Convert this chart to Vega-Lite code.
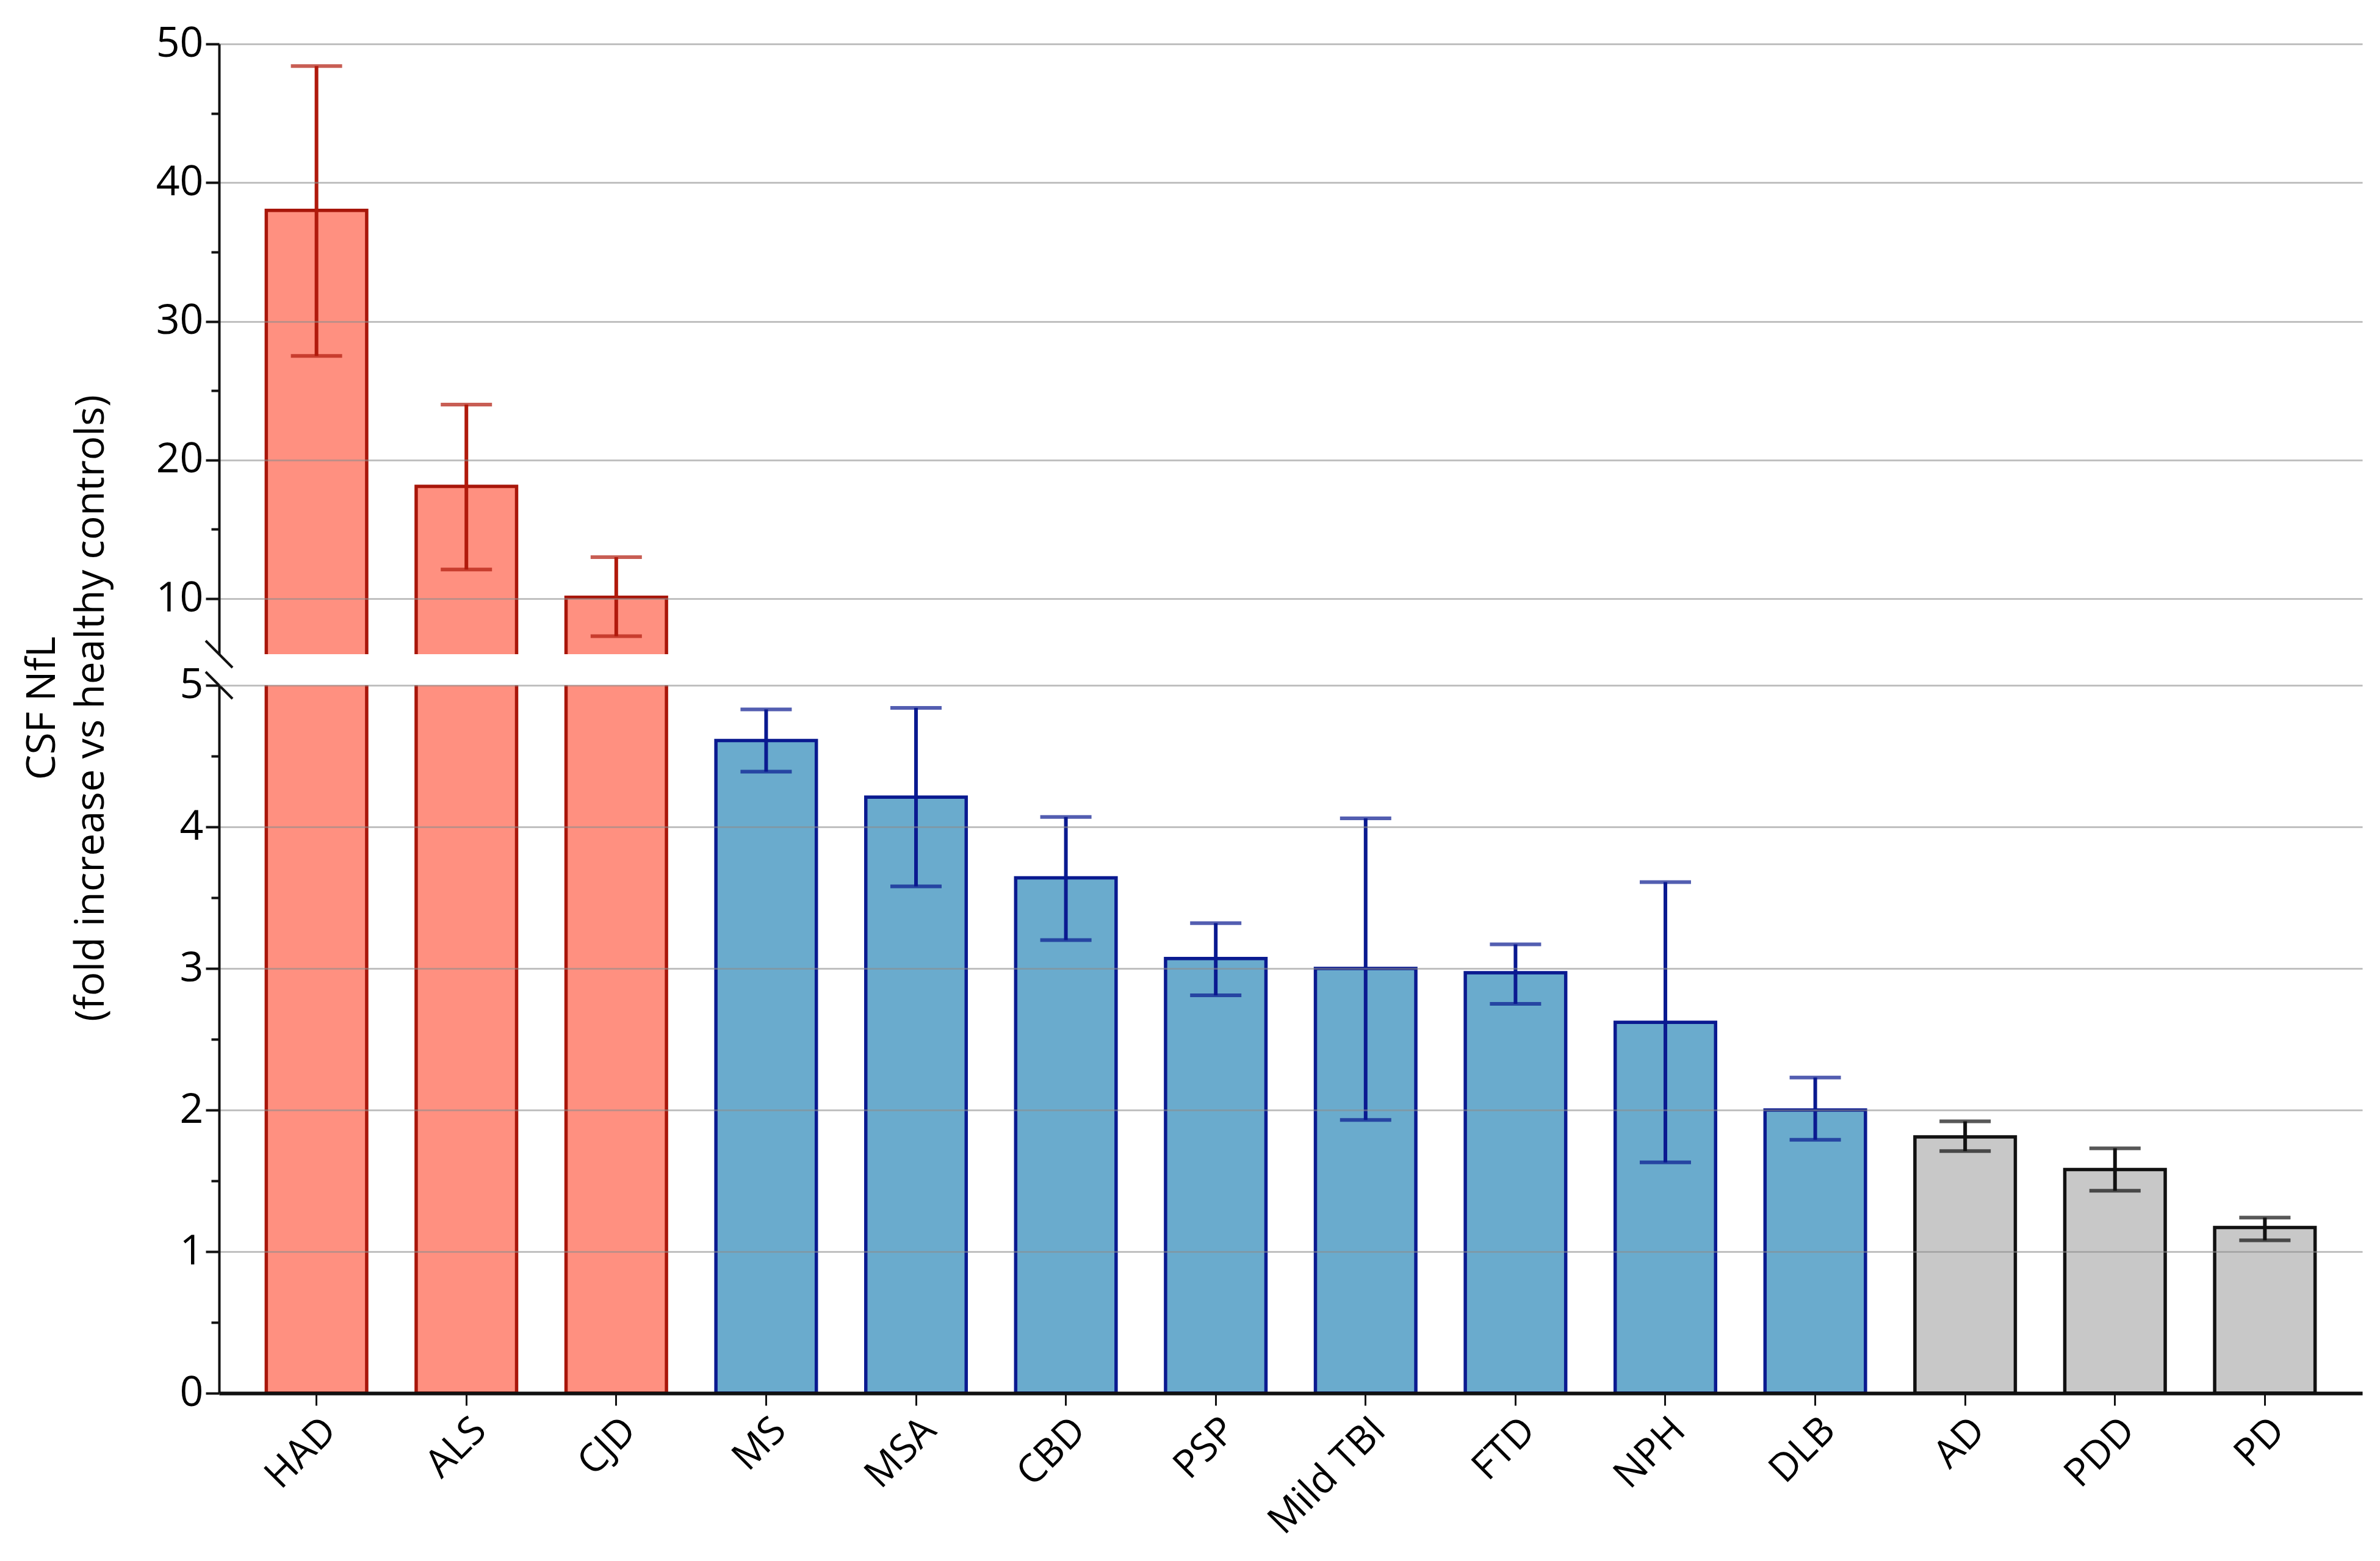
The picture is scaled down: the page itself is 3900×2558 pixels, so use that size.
{
  "$schema": "https://vega.github.io/schema/vega-lite/v6.json",
  "background": "white",
  "padding": {"left": 35, "top": 38, "right": 5, "bottom": 5},
  "bounds": "flush",
  "spacing": 51,
  "config": {
    "view": {"stroke": null},
    "font": "Open Sans",
    "axis": {"labelColor": "black", "titleColor": "black", "domainColor": "#111111", "tickColor": "#111111", "titleFontWeight": "normal"}
  },
  "data": {
    "values": [
      {"dx": "HAD", "group": "high", "mean": 38.0, "lo": 27.5, "hi": 48.4},
      {"dx": "ALS", "group": "high", "mean": 18.1, "lo": 12.1, "hi": 24.0},
      {"dx": "CJD", "group": "high", "mean": 10.1, "lo": 7.3, "hi": 13.0},
      {"dx": "MS", "group": "mid", "mean": 4.61, "lo": 4.39, "hi": 4.83},
      {"dx": "MSA", "group": "mid", "mean": 4.21, "lo": 3.58, "hi": 4.84},
      {"dx": "CBD", "group": "mid", "mean": 3.64, "lo": 3.2, "hi": 4.07},
      {"dx": "PSP", "group": "mid", "mean": 3.07, "lo": 2.81, "hi": 3.32},
      {"dx": "Mild TBI", "group": "mid", "mean": 3.0, "lo": 1.93, "hi": 4.06},
      {"dx": "FTD", "group": "mid", "mean": 2.97, "lo": 2.75, "hi": 3.17},
      {"dx": "NPH", "group": "mid", "mean": 2.62, "lo": 1.63, "hi": 3.61},
      {"dx": "DLB", "group": "mid", "mean": 2.0, "lo": 1.79, "hi": 2.23},
      {"dx": "AD", "group": "low", "mean": 1.81, "lo": 1.71, "hi": 1.92},
      {"dx": "PDD", "group": "low", "mean": 1.58, "lo": 1.43, "hi": 1.73},
      {"dx": "PD", "group": "low", "mean": 1.17, "lo": 1.08, "hi": 1.24}
    ]
  },
  "vconcat": [
    {
      "width": 3512,
      "height": 1000,
      "layer": [
        {
          "mark": {"type": "bar", "clip": true, "strokeWidth": 5.5},
          "encoding": {
            "x": {"field": "dx", "type": "nominal", "sort": null, "scale": {"paddingInner": 0.33, "paddingOuter": 0.315}, "axis": null},
            "y": {"field": "mean", "type": "quantitative", "scale": {"domain": [6, 50], "zero": false, "nice": false},
              "axis": {"title": null, "values": [10, 15, 20, 25, 30, 35, 40, 45, 50], "labelExpr": "datum.value % 10 === 0 ? datum.label : ''",
                "labelFontSize": 68, "labelPadding": 4, "domainWidth": 4, "tickWidth": 4, "zindex": 1,
                "tickSize": {"condition": {"test": "datum.value % 10 === 0", "value": 22}, "value": 13},
                "gridColor": "#8c8c8c", "gridWidth": 3, "gridOpacity": {"condition": {"test": "datum.value % 10 === 0", "value": 0.55}, "value": 0}}},
            "fill": {"field": "group", "type": "nominal", "legend": null, "scale": {"domain": ["high", "mid", "low"], "range": ["#ff9080", "#6aabcd", "#c8c8c8"]}},
            "stroke": {"field": "group", "type": "nominal", "legend": null, "scale": {"domain": ["high", "mid", "low"], "range": ["#a8160a", "#0a1a90", "#111111"]}}
          }
        },
        {
          "mark": {"type": "rule", "clip": true, "strokeWidth": 6},
          "encoding": {
            "x": {"field": "dx", "type": "nominal", "sort": null},
            "y": {"field": "lo", "type": "quantitative", "title": null},
            "y2": {"field": "hi"},
            "color": {"field": "group", "type": "nominal", "legend": null, "scale": {"domain": ["high", "mid", "low"], "range": ["#b01a0c", "#0a1a90", "#111111"]}}
          }
        },
        {
          "mark": {"type": "tick", "clip": true, "size": 84, "thickness": 6},
          "encoding": {
            "x": {"field": "dx", "type": "nominal", "sort": null},
            "y": {"field": "hi", "type": "quantitative", "title": null},
            "color": {"field": "group", "type": "nominal", "legend": null, "scale": {"domain": ["high", "mid", "low"], "range": ["#b01a0c", "#0a1a90", "#111111"]}}
          }
        },
        {
          "mark": {"type": "tick", "clip": true, "size": 84, "thickness": 6},
          "encoding": {
            "x": {"field": "dx", "type": "nominal", "sort": null},
            "y": {"field": "lo", "type": "quantitative", "title": null},
            "color": {"field": "group", "type": "nominal", "legend": null, "scale": {"domain": ["high", "mid", "low"], "range": ["#b01a0c", "#0a1a90", "#111111"]}}
          }
        },
        {
          "data": {"values": [{"brk": 6}]},
          "mark": {"type": "point", "shape": "M -1 -1 L 1 1", "size": 1936, "filled": false, "strokeWidth": 4, "stroke": "#111111", "opacity": 1},
          "encoding": {
            "x": {"value": 0},
            "y": {"field": "brk", "type": "quantitative", "title": null}
          }
        }
      ]
    },
    {
      "width": 3512,
      "height": 1160,
      "layer": [
        {
          "mark": {"type": "bar", "clip": true, "strokeWidth": 5.5},
          "encoding": {
            "x": {"field": "dx", "type": "nominal", "sort": null, "scale": {"paddingInner": 0.33, "paddingOuter": 0.315},
              "axis": {"title": null, "labelAngle": -45, "labelFontSize": 64, "labelLimit": 0, "tickSize": 20, "tickWidth": 3, "domainWidth": 6, "domainColor": "#111111", "labelPadding": 8, "zindex": 1}},
            "y": {"field": "mean", "type": "quantitative", "scale": {"domain": [0, 5], "nice": false},
              "axis": {"title": ["CSF NfL", "(fold increase vs healthy controls)"], "titleFontSize": 66, "titleLineHeight": 80, "titleBaseline": "bottom", "titleAlign": "center", "titleAngle": -90, "titleX": -256, "titleY": 37,
                "values": [0, 0.5, 1, 1.5, 2, 2.5, 3, 3.5, 4, 4.5, 5], "labelExpr": "datum.value % 1 === 0 ? format(datum.value, 'd') : ''",
                "labelFontSize": 68, "labelPadding": 4, "domainWidth": 4, "tickWidth": 4, "zindex": 1,
                "tickSize": {"condition": {"test": "datum.value % 1 === 0", "value": 22}, "value": 13},
                "gridColor": "#8c8c8c", "gridWidth": 3, "gridOpacity": {"condition": {"test": "datum.value % 1 === 0 && datum.value > 0", "value": 0.55}, "value": 0}}},
            "fill": {"field": "group", "type": "nominal", "legend": null, "scale": {"domain": ["high", "mid", "low"], "range": ["#ff9080", "#6aabcd", "#c8c8c8"]}},
            "stroke": {"field": "group", "type": "nominal", "legend": null, "scale": {"domain": ["high", "mid", "low"], "range": ["#a8160a", "#0a1a90", "#111111"]}}
          }
        },
        {
          "mark": {"type": "rule", "clip": true, "strokeWidth": 6},
          "encoding": {
            "x": {"field": "dx", "type": "nominal", "sort": null},
            "y": {"field": "lo", "type": "quantitative"},
            "y2": {"field": "hi"},
            "color": {"field": "group", "type": "nominal", "legend": null, "scale": {"domain": ["high", "mid", "low"], "range": ["#b01a0c", "#0a1a90", "#111111"]}}
          }
        },
        {
          "mark": {"type": "tick", "clip": true, "size": 84, "thickness": 6},
          "encoding": {
            "x": {"field": "dx", "type": "nominal", "sort": null},
            "y": {"field": "hi", "type": "quantitative"},
            "color": {"field": "group", "type": "nominal", "legend": null, "scale": {"domain": ["high", "mid", "low"], "range": ["#b01a0c", "#0a1a90", "#111111"]}}
          }
        },
        {
          "mark": {"type": "tick", "clip": true, "size": 84, "thickness": 6},
          "encoding": {
            "x": {"field": "dx", "type": "nominal", "sort": null},
            "y": {"field": "lo", "type": "quantitative"},
            "color": {"field": "group", "type": "nominal", "legend": null, "scale": {"domain": ["high", "mid", "low"], "range": ["#b01a0c", "#0a1a90", "#111111"]}}
          }
        },
        {
          "data": {"values": [{"brk": 5}]},
          "mark": {"type": "point", "shape": "M -1 -1 L 1 1", "size": 1936, "filled": false, "strokeWidth": 4, "stroke": "#111111", "opacity": 1},
          "encoding": {
            "x": {"value": 0},
            "y": {"field": "brk", "type": "quantitative"}
          }
        }
      ]
    }
  ]
}
